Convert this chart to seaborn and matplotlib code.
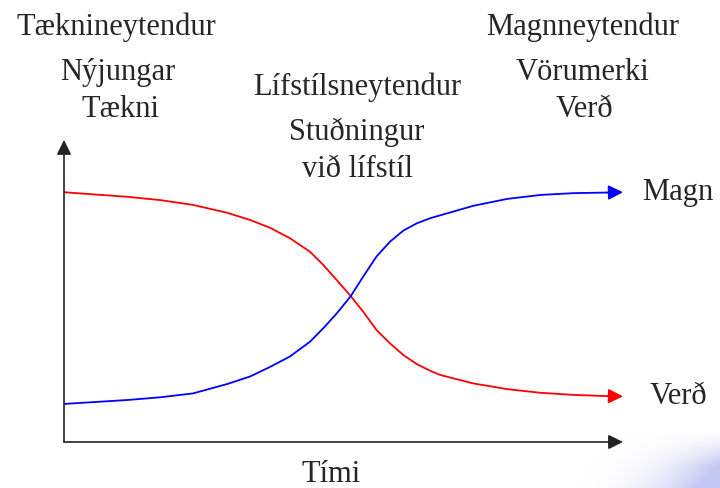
import matplotlib
matplotlib.use("Agg")
import matplotlib.pyplot as plt
import numpy as np
import seaborn as sns

# time axis (0 = start, 100 = end) and curve levels (0 = x axis, 100 = top of y axis)
time_red = [0, 5.2, 11.3, 17.2, 23.1, 29.2, 33.3, 36.9, 40.4, 44.0, 46.4, 48.8, 51.3,
            53.5, 55.9, 58.3, 60.7, 63.1, 65.5, 67.3, 73.2, 79.3, 85.2, 91.1, 97.1, 100]
price = [82.7, 82.0, 81.2, 80.1, 78.5, 75.9, 73.5, 70.9, 67.5, 63.0, 58.6, 53.6, 48.3,
         43.2, 37.1, 32.7, 28.8, 25.8, 23.6, 22.2, 19.4, 17.5, 16.3, 15.6, 15.2, 15.1]

time_blue = [0, 5.2, 11.3, 17.2, 23.1, 29.2, 33.3, 36.9, 40.4, 44.0, 46.4, 48.8, 51.3,
             53.5, 55.9, 58.3, 60.7, 63.1, 65.5, 73.2, 79.3, 85.2, 91.1, 97.1, 100]
volume = [12.6, 13.2, 13.9, 14.8, 16.1, 19.2, 21.7, 24.9, 28.3, 33.2, 37.7, 42.6, 48.3,
          54.7, 61.4, 66.3, 70.0, 72.4, 74.1, 78.2, 80.5, 81.8, 82.4, 82.6, 82.7]

end_labels = ["Magn", "Verð"]
x_label = "Tími"

segments = [
    ["Tæknineytendur", "Nýjungar", "Tækni"],
    ["Lífstílsneytendur", "Stuðningur", "við lífstíl"],
    ["Magnneytendur", "Vörumerki", "Verð"],
]

sns.set_theme(style="white")
plt.rcParams["font.family"] = ["Liberation Serif", "DejaVu Serif"]

W, H = 720, 488
fig = plt.figure(figsize=(7.2, 4.88), dpi=100)
fig.patch.set_facecolor("white")

# faint blue swoosh in the bottom right corner (slide background)
deco = fig.add_axes([580 / W, 0, 140 / W, 58 / H])
gx, gy = np.meshgrid(np.linspace(0, 1, 140), np.linspace(0, 1, 58))
shade = np.clip((gx - 0.3 + gy * 0.35) / 0.9, 0, 1) ** 2.2 * 0.42
shade *= np.clip(gy * 1.6, 0, 1)
tint = np.array([0.45, 0.48, 0.88])
rgba = np.ones((58, 140, 4))
for c in range(3):
    rgba[..., c] = 1 - shade * (1 - tint[c])
deco.imshow(rgba, origin="upper", aspect="auto", interpolation="bilinear")
deco.set_axis_off()

# plot area: origin at (64, 442) px, arrows to x=623 and y=140
ax = fig.add_axes([64 / W, (H - 442) / H, (623 - 64) / W, (442 - 140) / H])
ax.set_xlim(0, 100)
ax.set_ylim(0, 100)
ax.set_axis_off()
ax.patch.set_alpha(0)

sns.lineplot(x=time_red[:-1], y=price[:-1], color="red", lw=1.3, ax=ax, sort=False)
sns.lineplot(x=time_blue[:-1], y=volume[:-1], color="blue", lw=1.3, ax=ax, sort=False)

head = dict(arrowstyle="-|>", mutation_scale=22, shrinkA=0, shrinkB=0, lw=1.3)
ax.annotate("", xy=(time_red[-1], price[-1]), xytext=(time_red[-2], price[-2]),
            arrowprops=dict(color="red", **head), annotation_clip=False)
ax.annotate("", xy=(time_blue[-1], volume[-1]), xytext=(time_blue[-2], volume[-2]),
            arrowprops=dict(color="blue", **head), annotation_clip=False)

# axes with arrow heads
axis_style = dict(arrowstyle="-|>", mutation_scale=22, shrinkA=0, shrinkB=0, lw=1.2, color="#222222")
ax.annotate("", xy=(1, 0), xytext=(0, 0), xycoords="axes fraction", arrowprops=axis_style)
ax.annotate("", xy=(0, 1), xytext=(0, 0), xycoords="axes fraction", arrowprops=axis_style)

fs = 22
# end labels
ax.annotate(end_labels[0], xy=(time_blue[-1], volume[-1]), xytext=(19, 0), textcoords="offset pixels",
            fontsize=fs, va="center", ha="left", annotation_clip=False)
ax.annotate(end_labels[1], xy=(time_red[-1], price[-1]), xytext=(27, 0), textcoords="offset pixels",
            fontsize=fs, va="center", ha="left", annotation_clip=False)

fig.text(331 / W, 1 - 482 / H, x_label, fontsize=fs, ha="center", va="baseline")

# segment descriptions
baselines = [[35, 80, 117], [95, 140, 177], [35, 80, 117]]
line_x = [[116, 118, 120], [357, 357, 357], [583, 583, 584]]
for seg, xs, ys in zip(segments, line_x, baselines):
    for txt, x, y in zip(seg, xs, ys):
        fig.text(x / W, 1 - y / H, txt, fontsize=fs, ha="center", va="baseline")

fig.savefig("out.png", dpi=100, facecolor="white")
